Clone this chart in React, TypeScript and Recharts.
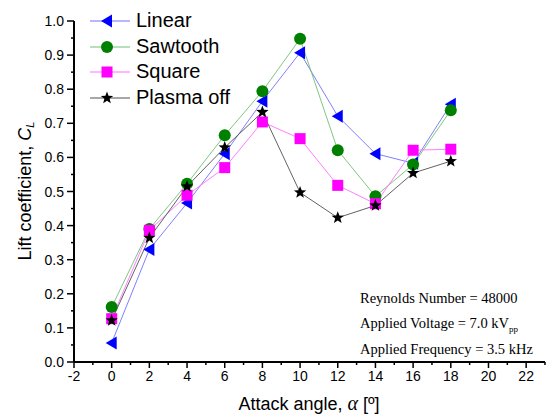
import { LineChart, Line, XAxis, YAxis, Legend } from "recharts";

const angles = [0, 2, 4, 6, 8, 10, 12, 14, 16, 18];
const linear = [0.056, 0.33, 0.466, 0.611, 0.765, 0.907, 0.721, 0.611, 0.583, 0.756];
const sawtooth = [0.161, 0.39, 0.523, 0.665, 0.794, 0.948, 0.621, 0.486, 0.579, 0.738];
const square = [0.127, 0.386, 0.489, 0.57, 0.704, 0.655, 0.518, 0.464, 0.621, 0.624];
const plasmaOff = [0.122, 0.364, 0.515, 0.629, 0.733, 0.497, 0.423, 0.459, 0.554, 0.589];

const xTicks = [-2, -1, 0, 1, 2, 3, 4, 5, 6, 7, 8, 9, 10, 11, 12, 13, 14, 15, 16, 17, 18, 19, 20, 21, 22, 23];
const yTicks = [0, 0.05, 0.1, 0.15, 0.2, 0.25, 0.3, 0.35, 0.4, 0.45, 0.5, 0.55, 0.6, 0.65, 0.7, 0.75, 0.8, 0.85, 0.9, 0.95, 1.0];

const data = angles.map((a, i) => ({
  angle: a,
  linear: linear[i],
  sawtooth: sawtooth[i],
  square: square[i],
  plasmaOff: plasmaOff[i],
}));

type Shape = "triangle" | "circle" | "square" | "star";

const series: { key: string; name: string; line: string; fill: string; shape: Shape }[] = [
  { key: "linear", name: "Linear", line: "#7070ff", fill: "#0000ff", shape: "triangle" },
  { key: "sawtooth", name: "Sawtooth", line: "#70c070", fill: "#008000", shape: "circle" },
  { key: "square", name: "Square", line: "#ff70ff", fill: "#ff00ff", shape: "square" },
  { key: "plasmaOff", name: "Plasma off", line: "#505050", fill: "#000000", shape: "star" },
];

const font = "'Liberation Sans', Arial, sans-serif";
const serif = "'Liberation Serif', 'Times New Roman', serif";

function starPoints(cx: number, cy: number, r: number) {
  const pts: string[] = [];
  for (let i = 0; i < 10; i++) {
    const rr = i % 2 === 0 ? r : r * 0.42;
    const a = -Math.PI / 2 + (i * Math.PI) / 5;
    pts.push(`${cx + rr * Math.cos(a)},${cy + rr * Math.sin(a)}`);
  }
  return pts.join(" ");
}

function Marker({ cx, cy, shape, fill }: { cx: number; cy: number; shape: Shape; fill: string }) {
  if (shape === "triangle")
    return <polygon points={`${cx - 6},${cy} ${cx + 5},${cy - 6.5} ${cx + 5},${cy + 6.5}`} fill={fill} />;
  if (shape === "circle") return <circle cx={cx} cy={cy} r={6} fill={fill} />;
  if (shape === "square") return <rect x={cx - 5.5} y={cy - 5.5} width={11} height={11} fill={fill} />;
  return <polygon points={starPoints(cx, cy, 6.5)} fill={fill} />;
}

function XTick({ x, y, payload }: any) {
  const major = payload.value % 2 === 0;
  return (
    <g>
      <line x1={x} x2={x} y1={y} y2={y + (major ? 6 : 3)} stroke="#000" strokeWidth={1.5} />
      {major && (
        <text x={x} y={y + 19} textAnchor="middle" fontSize={14} fontFamily={font} fill="#000">
          {payload.value}
        </text>
      )}
    </g>
  );
}

function YTick({ x, y, payload }: any) {
  const major = Math.round(payload.value * 100) % 10 === 0;
  return (
    <g>
      <line x1={x - (major ? 7 : 3)} x2={x} y1={y} y2={y} stroke="#000" strokeWidth={1.5} />
      {major && (
        <text x={x - 10} y={y} dy="0.36em" textAnchor="end" fontSize={14} fontFamily={font} fill="#000">
          {payload.value.toFixed(1)}
        </text>
      )}
    </g>
  );
}

function LegendBox() {
  return (
    <div style={{ fontFamily: font, fontSize: 20, lineHeight: "25.7px" }}>
      {series.map((s) => (
        <div key={s.key} style={{ display: "flex", alignItems: "center" }}>
          <svg width={46} height={20}>
            <line x1={0} x2={40} y1={10} y2={10} stroke={s.line} strokeWidth={1} />
            <Marker cx={17} cy={10} shape={s.shape} fill={s.fill} />
          </svg>
          <span>{s.name}</span>
        </div>
      ))}
    </div>
  );
}

export default function App() {
  return (
    <div style={{ position: "absolute", left: 0, top: 0, width: 552, height: 419 }}>
      <LineChart width={552} height={419} data={data} margin={{ top: 21, right: 7, bottom: 0, left: 0 }}>
        <XAxis
          dataKey="angle"
          type="number"
          domain={[-2, 23]}
          ticks={xTicks}
          interval={0}
          tickSize={0}
          tickMargin={0}
          tickLine={false}
          axisLine={{ stroke: "#000", strokeWidth: 2 }}
          tick={<XTick />}
          height={57}
          label={{
            content: () => (
              <text x={309} y={410} textAnchor="middle" fontSize={18} fontFamily={font} fill="#000">
                Attack angle, <tspan fontFamily={serif} fontStyle="italic" fontSize={20}>α</tspan> [º]
              </text>
            ),
          }}
        />
        <YAxis
          type="number"
          domain={[0, 1]}
          ticks={yTicks}
          interval={0}
          tickSize={0}
          tickMargin={0}
          tickLine={false}
          axisLine={{ stroke: "#000", strokeWidth: 2 }}
          tick={<YTick />}
          width={74}
          label={{
            content: () => (
              <text
                x={25}
                y={191}
                transform="rotate(-90 25 191)"
                textAnchor="middle"
                dominantBaseline="central"
                fontSize={18}
                fontFamily={font}
                fill="#000"
              >
                Lift coefficient, <tspan fontStyle="italic">C</tspan>
                <tspan fontStyle="italic" fontSize={11} dy={5}>
                  L
                </tspan>
              </text>
            ),
          }}
        />
        <Legend
          layout="vertical"
          align="center"
          verticalAlign="middle"
          wrapperStyle={{ left: 90, top: 8, width: "auto" }}
          content={() => <LegendBox />}
        />
        {series.map((s) => (
          <Line
            key={s.key}
            dataKey={s.key}
            name={s.name}
            stroke={s.line}
            strokeWidth={0.9}
            isAnimationActive={false}
            dot={(p: any) => <Marker key={`${s.key}-${p.index}`} cx={p.cx} cy={p.cy} shape={s.shape} fill={s.fill} />}
            activeDot={false}
          />
        ))}
      </LineChart>
      <div
        style={{
          position: "absolute",
          left: 360,
          top: 286,
          fontFamily: serif,
          fontSize: 14.5,
          lineHeight: "24.5px",
          color: "#000",
          whiteSpace: "nowrap",
        }}
      >
        <div>Reynolds Number = 48000</div>
        <div>
          Applied Voltage = 7.0 kV
          <span style={{ fontSize: 9, position: "relative", top: 4 }}>pp</span>
        </div>
        <div>Applied Frequency = 3.5 kHz</div>
      </div>
    </div>
  );
}
